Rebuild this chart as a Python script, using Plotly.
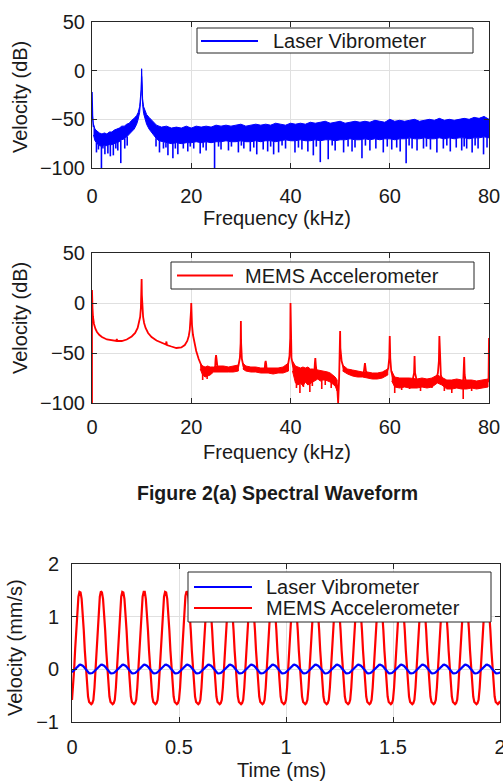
import numpy as np
import plotly.graph_objects as go

W, H = 503, 783
FONT = "Liberation Sans, Arial, Helvetica, sans-serif"
INK = "#1a1a1a"
BLUE = "#0000ff"
RED = "#ff0000"

# ---------------- Laser vibrometer spectrum (kHz, dB) ----------------
laser_env_khz = [0.3, 0.6, 1.0, 1.5, 2.0, 2.5, 3.0, 3.5, 4.0, 4.5,
                 5.0, 5.5, 6.0, 6.5, 7.0, 7.5, 8.0, 8.5, 9.0, 9.3,
                 9.6, 9.8, 9.9, 10.0, 10.1, 10.2, 10.4, 10.7, 11.0, 11.5,
                 12.0, 12.5, 13.0, 13.5] + list(range(14, 81))
laser_upper = [-55, -60, -62, -64, -65, -64, -65, -63, -63, -61,
               -60, -59, -57, -57, -55, -54, -51, -49, -46, -43,
               -37, -29, -19, 2, -19, -29, -37, -42, -45, -48,
               -51, -54, -56, -57,
               -58, -57, -59, -58, -59, -57, -59, -57, -58, -57,
               -58, -56, -57, -56, -57, -56, -55, -57, -56, -55,
               -56, -55, -56, -54, -55, -56, -54, -55, -54, -55,
               -53, -54, -53, -52, -54, -53, -52, -54, -53, -52,
               -53, -52, -53, -51, -52, -53, -50, -52, -51, -52,
               -51, -50, -52, -51, -50, -51, -49, -51, -50, -51,
               -50, -49, -50, -48, -49, -47, -50]
laser_lower = [-66, -72, -75, -77, -78, -77, -77, -76, -76, -75,
               -74, -73, -71, -70, -68, -66, -63, -60, -55, -50,
               -43, -35, -25, -6, -25, -35, -44, -50, -55, -60,
               -64, -67, -70, -72,
               -73, -74, -75, -74, -75, -74, -74, -73, -74, -73,
               -74, -73, -73, -72, -73, -73, -72, -73, -73, -72,
               -73, -72, -72, -73, -72, -71, -72, -72, -71, -72,
               -72, -71, -72, -71, -71, -72, -71, -71, -70, -71,
               -71, -70, -71, -70, -71, -70, -70, -71, -70, -70,
               -69, -70, -70, -69, -70, -70, -69, -70, -69, -70,
               -69, -69, -70, -69, -69, -68, -69]
laser_dc_khz = [0.0, 0.0, 0.1, 0.3]
laser_dc_db = [-50, -22, -46, -58]
laser_dip_khz = [0.9, 1.9, 2.6, 3.2, 3.7, 4.3, 5.2, 5.8, 6.6, 13.6,
                 14.4, 15.3, 16.3, 17.3, 18.4, 19.3, 20.5, 21.8, 23.0, 24.7,
                 26.0, 27.5, 29.5, 30.6, 31.9, 33.2, 34.5, 35.4, 36.6, 37.6,
                 39.0, 40.9, 42.3, 43.5, 44.6, 46.0, 47.6, 49.0, 50.7, 52.4,
                 53.0, 54.4, 56.0, 57.2, 58.7, 60.4, 61.4, 62.1, 63.3, 64.5,
                 65.5, 66.8, 68.2, 69.5, 70.8, 72.2, 73.4, 74.5, 75.5, 76.6,
                 77.8, 78.9, 79.6,
                 1.3, 2.2, 4.8, 7.1, 12.9, 14.9, 16.8, 19.8, 22.4, 25.5,
                 28.1, 30.1, 32.6, 36.0, 38.3, 41.6, 45.2, 48.4, 51.6, 55.1,
                 59.5, 63.9, 67.4, 71.5, 75.0, 77.2]
laser_dip_db = [-84, -100, -86, -85, -88, -87, -82, -95, -80, -84,
                -80, -87, -90, -86, -80, -83, -80, -85, -82, -100,
                -81, -82, -84, -80, -83, -86, -81, -83, -86, -84,
                -80, -84, -81, -83, -87, -94, -91, -82, -84, -83,
                -79, -90, -82, -80, -84, -81, -79, -83, -95, -80,
                -82, -80, -81, -84, -80, -83, -79, -82, -80, -84,
                -80, -86, -79,
                -81, -80, -80, -77, -78, -79, -80, -78, -79, -78,
                -78, -77, -79, -78, -77, -79, -78, -77, -78, -77,
                -78, -77, -78, -77, -78, -77]

# ---------------- MEMS accelerometer spectrum (kHz, dB) ----------------
mems_khz = [0.0, 0.0, 0.05, 0.1, 0.2, 0.4, 0.7, 1.0, 1.5, 2.0,
            3.0, 4.0, 4.9, 5.0, 5.1, 6.0, 7.0, 8.0, 8.7, 9.2,
            9.5, 9.7, 9.85, 9.95, 10.0, 10.05, 10.15, 10.3, 10.5, 10.8,
            11.3, 12.0, 13.0, 14.0, 14.9, 15.0, 15.1, 16.0, 17.0, 18.0,
            18.7, 19.2, 19.5, 19.7, 19.85, 19.95, 20.0, 20.05, 20.15, 20.35,
            20.6, 21.0, 21.5, 22.0, 22.5, 23.0, 24.0, 24.8, 24.9, 25.0,
            25.1, 25.3, 26.0, 27.0, 28.0, 29.0, 29.5, 29.8, 29.95, 30.0,
            30.05, 30.2, 30.5, 31.0, 32.0, 33.0, 34.0, 34.8, 34.9, 35.0,
            35.1, 35.2, 36.0, 37.0, 38.0, 39.0, 39.5, 39.8, 39.95, 40.0,
            40.05, 40.2, 40.5, 41.0, 42.0, 43.0, 44.0, 44.8, 44.9, 45.0,
            45.1, 45.3, 46.0, 47.0, 48.0, 49.0, 49.4, 49.6, 49.8, 49.95,
            50.0, 50.05, 50.3, 50.7, 51.5, 52.5, 53.5, 54.5, 54.8, 55.0,
            55.2, 55.5, 56.5, 57.5, 58.5, 59.3, 59.7, 59.9, 60.0, 60.1,
            60.3, 60.7, 61.5, 62.5, 63.5, 64.5, 64.9, 65.0, 65.1, 65.5,
            66.5, 67.5, 68.5, 69.3, 69.7, 69.9, 70.0, 70.1, 70.3, 70.8,
            72.0, 73.0, 74.0, 74.8, 74.9, 75.0, 75.1, 75.4, 76.5, 77.5,
            78.5, 79.5, 79.9, 80.0]
mems_db = [-100, 13, 4, -5, -14, -21, -26, -29, -32, -34,
           -36.5, -37.5, -38, -36, -38, -38, -36.5, -33.5, -30, -25,
           -20, -14, -5, 8, 24, 8, -5, -14, -20, -25,
           -30, -34, -37.5, -40, -41.5, -38.5, -42, -43.5, -45, -44.5,
           -42, -38, -33, -27, -18, -8, 0, -10, -22, -32,
           -40, -48, -56, -63, -68, -69, -67, -66, -56, -52,
           -56, -65, -66, -66, -66.5, -66, -63, -55, -40, -18,
           -40, -56, -63, -65.5, -66.5, -67, -67, -66, -60, -58,
           -61, -66.5, -67.5, -68, -68, -66, -62, -53, -35, 0,
           -35, -55, -63, -69, -71, -71, -72, -70, -61, -55,
           -62, -71, -72, -73, -75, -78, -83, -100, -75, -45,
           -28, -45, -58, -65, -68.5, -70, -71, -72, -68, -60,
           -68, -72, -73, -73, -72, -70, -65, -55, -33, -55,
           -68, -76, -79, -80, -80, -80, -70, -53, -70, -79,
           -80, -80, -79, -77, -70, -58, -33, -58, -72, -80,
           -81, -81, -81, -80, -70, -54, -72, -81, -81, -81,
           -81, -80, -78, -35]
# noisy floor bands (None separates frequency ranges)
mems_band_khz = [21.8, 22.3, 22.8, 23.3, 23.8, 24.5, 25.5, 26.5, 27.5, 28.5, 29.5, None,
                 30.4, 31, 32, 33, 34, 35.5, 36.5, 37.5, 38.5, 39.6, None,
                 40.4, 41, 41.5, 42, 42.5, 43, 43.5, 44, 44.5, 45.5, 46, 46.5, 47, 47.5, 48, 48.5, 49, 49.4, None,
                 50.5, 51.5, 52.5, 53.5, 54.5, 55.5, 56.5, 57.5, 58.5, 59.6, None,
                 60.4, 61, 62, 63, 64, 65.5, 66.5, 67.5, 68.5, 69.6, 70.5, 71.5, 72.5, 73.5, 74.5, 75.5, 76.5, 77.5, 78.5, 79.8]
mems_band_hi = [-60, -63, -64, -63, -64, -64, -63, -63, -64, -63, -62, None,
                -60, -63, -64, -64, -65, -65, -65, -65, -64, -60, None,
                -58, -63, -64, -65, -64, -65, -64, -66, -66, -67, -67, -68, -68, -69, -70, -72, -74, -77, None,
                -62, -66, -67, -68, -69, -69, -70, -70, -69, -66, None,
                -68, -74, -75, -75, -75, -76, -75, -76, -75, -72, -74, -77, -77, -76, -77, -77, -77, -78, -77, -76]
mems_band_lo = [-66, -72, -74, -73, -72, -69, -69, -69, -69, -69, -68, None,
                -66, -68, -69, -69, -70, -70, -71, -70, -70, -68, None,
                -68, -80, -82, -80, -83, -79, -82, -80, -79, -76, -78, -77, -77, -78, -79, -81, -83, -88, None,
                -68, -71, -73, -74, -74, -75, -76, -76, -75, -72, None,
                -78, -84, -85, -84, -85, -85, -84, -85, -84, -80, -82, -86, -86, -85, -86, -86, -85, -86, -85, -84]
mems_dip_khz = [22.3, 23.2, 41.2, 41.9, 42.6, 43.9, 44.4, 46.3, 47.0, 48.2,
                61.0, 62.4, 64.0, 66.2, 68.5, 71.0, 72.5, 74.8, 76.5, 78.0]
mems_dip_db = [-77, -76, -85, -90, -84, -89, -83, -86, -82, -85,
               -90, -87, -86, -88, -85, -88, -90, -96, -88, -86]

# ---------------- Time waveforms (ms, mm/s) ----------------
t_ms = np.linspace(0.0, 2.0, 401)
mems_mms = [
    -0.58, -0.35, 0.00, 0.40, 0.80, 1.15, 1.38, 1.47, 1.46, 1.34, 1.08, 0.74, 0.35, -0.02, -0.32, -0.52, -0.62, -0.65, -0.66, -0.64,
    -0.58, -0.35, 0.01, 0.41, 0.80, 1.15, 1.38, 1.48, 1.46, 1.34, 1.08, 0.74, 0.35, -0.02, -0.32, -0.52, -0.62, -0.65, -0.66, -0.64,
    -0.58, -0.35, 0.00, 0.40, 0.80, 1.15, 1.38, 1.47, 1.46, 1.34, 1.08, 0.74, 0.35, -0.02, -0.32, -0.52, -0.62, -0.65, -0.66, -0.64,
    -0.58, -0.35, 0.00, 0.40, 0.81, 1.15, 1.38, 1.47, 1.47, 1.34, 1.08, 0.74, 0.35, -0.02, -0.32, -0.52, -0.62, -0.65, -0.66, -0.64,
    -0.58, -0.35, 0.00, 0.40, 0.80, 1.15, 1.38, 1.47, 1.46, 1.34, 1.08, 0.74, 0.35, -0.02, -0.32, -0.52, -0.62, -0.65, -0.66, -0.64,
    -0.58, -0.35, 0.00, 0.40, 0.80, 1.15, 1.39, 1.48, 1.46, 1.34, 1.08, 0.74, 0.35, -0.02, -0.32, -0.52, -0.62, -0.65, -0.66, -0.64,
    -0.58, -0.35, 0.00, 0.40, 0.80, 1.15, 1.38, 1.47, 1.46, 1.34, 1.08, 0.74, 0.35, -0.02, -0.32, -0.52, -0.62, -0.65, -0.66, -0.64,
    -0.58, -0.35, 0.00, 0.40, 0.80, 1.15, 1.38, 1.47, 1.46, 1.34, 1.08, 0.74, 0.35, -0.02, -0.32, -0.52, -0.62, -0.65, -0.66, -0.64,
    -0.58, -0.35, 0.00, 0.40, 0.80, 1.15, 1.38, 1.47, 1.47, 1.34, 1.08, 0.74, 0.35, -0.02, -0.32, -0.52, -0.62, -0.65, -0.66, -0.64,
    -0.58, -0.35, 0.00, 0.40, 0.80, 1.15, 1.38, 1.47, 1.46, 1.34, 1.08, 0.74, 0.35, -0.02, -0.32, -0.52, -0.62, -0.65, -0.66, -0.64,
    -0.58, -0.35, 0.00, 0.40, 0.80, 1.15, 1.38, 1.48, 1.46, 1.34, 1.08, 0.74, 0.35, -0.02, -0.32, -0.52, -0.62, -0.65, -0.66, -0.64,
    -0.58, -0.35, 0.00, 0.40, 0.80, 1.15, 1.38, 1.47, 1.46, 1.34, 1.08, 0.74, 0.35, -0.02, -0.32, -0.52, -0.62, -0.65, -0.66, -0.64,
    -0.58, -0.35, 0.00, 0.40, 0.80, 1.15, 1.38, 1.47, 1.46, 1.34, 1.08, 0.74, 0.35, -0.02, -0.32, -0.52, -0.62, -0.65, -0.66, -0.64,
    -0.58, -0.35, 0.00, 0.40, 0.80, 1.15, 1.38, 1.47, 1.47, 1.34, 1.08, 0.74, 0.35, -0.02, -0.32, -0.52, -0.62, -0.65, -0.66, -0.64,
    -0.58, -0.35, 0.00, 0.40, 0.80, 1.15, 1.38, 1.47, 1.46, 1.34, 1.08, 0.74, 0.35, -0.02, -0.32, -0.52, -0.62, -0.65, -0.66, -0.64,
    -0.58, -0.35, 0.00, 0.40, 0.80, 1.15, 1.38, 1.48, 1.46, 1.34, 1.08, 0.74, 0.35, -0.02, -0.32, -0.52, -0.62, -0.65, -0.66, -0.64,
    -0.58, -0.35, 0.00, 0.40, 0.80, 1.15, 1.38, 1.47, 1.46, 1.34, 1.08, 0.74, 0.35, -0.02, -0.32, -0.52, -0.62, -0.65, -0.66, -0.64,
    -0.58, -0.35, 0.00, 0.40, 0.80, 1.15, 1.38, 1.47, 1.46, 1.34, 1.08, 0.74, 0.35, -0.02, -0.32, -0.52, -0.62, -0.65, -0.66, -0.64,
    -0.58, -0.35, 0.00, 0.40, 0.80, 1.15, 1.38, 1.47, 1.47, 1.34, 1.08, 0.74, 0.35, -0.02, -0.32, -0.52, -0.62, -0.65, -0.66, -0.64,
    -0.58, -0.35, 0.00, 0.40, 0.80, 1.15, 1.38, 1.47, 1.46, 1.34, 1.08, 0.74, 0.35, -0.02, -0.32, -0.52, -0.62, -0.65, -0.66, -0.64,
    -0.60]
laser_mms = [
    -0.055, -0.035, -0.010, 0.015, 0.040, 0.060, 0.075, 0.085, 0.088, 0.083, 0.070, 0.048, 0.020, -0.010, -0.038, -0.060, -0.073, -0.078, -0.078, -0.070,
    -0.055, -0.035, -0.010, 0.016, 0.041, 0.061, 0.076, 0.086, 0.089, 0.083, 0.070, 0.048, 0.020, -0.010, -0.038, -0.060, -0.073, -0.078, -0.078, -0.070,
    -0.055, -0.035, -0.010, 0.015, 0.040, 0.060, 0.075, 0.085, 0.088, 0.083, 0.070, 0.048, 0.020, -0.010, -0.038, -0.060, -0.073, -0.079, -0.078, -0.070,
    -0.055, -0.035, -0.010, 0.015, 0.040, 0.060, 0.075, 0.085, 0.088, 0.083, 0.070, 0.048, 0.020, -0.010, -0.038, -0.060, -0.073, -0.078, -0.078, -0.070,
    -0.055, -0.035, -0.010, 0.015, 0.040, 0.060, 0.076, 0.086, 0.089, 0.084, 0.070, 0.048, 0.020, -0.010, -0.038, -0.060, -0.073, -0.078, -0.078, -0.070,
    -0.055, -0.035, -0.010, 0.015, 0.040, 0.060, 0.075, 0.085, 0.088, 0.083, 0.070, 0.048, 0.020, -0.010, -0.038, -0.060, -0.073, -0.078, -0.078, -0.070,
    -0.055, -0.035, -0.010, 0.015, 0.040, 0.060, 0.075, 0.085, 0.088, 0.083, 0.070, 0.048, 0.020, -0.010, -0.038, -0.060, -0.074, -0.079, -0.078, -0.070,
    -0.055, -0.035, -0.010, 0.015, 0.040, 0.060, 0.075, 0.085, 0.088, 0.083, 0.070, 0.048, 0.020, -0.010, -0.038, -0.060, -0.073, -0.078, -0.078, -0.070,
    -0.055, -0.035, -0.010, 0.016, 0.041, 0.061, 0.076, 0.086, 0.089, 0.083, 0.070, 0.048, 0.020, -0.010, -0.038, -0.060, -0.073, -0.078, -0.078, -0.070,
    -0.055, -0.035, -0.010, 0.015, 0.040, 0.060, 0.075, 0.085, 0.088, 0.083, 0.070, 0.048, 0.020, -0.010, -0.038, -0.060, -0.073, -0.078, -0.078, -0.070,
    -0.055, -0.035, -0.010, 0.015, 0.040, 0.060, 0.075, 0.085, 0.088, 0.083, 0.070, 0.048, 0.020, -0.010, -0.038, -0.060, -0.073, -0.078, -0.078, -0.070,
    -0.055, -0.035, -0.010, 0.015, 0.040, 0.060, 0.075, 0.085, 0.088, 0.083, 0.070, 0.048, 0.020, -0.010, -0.038, -0.061, -0.074, -0.079, -0.078, -0.070,
    -0.055, -0.035, -0.010, 0.015, 0.040, 0.060, 0.075, 0.085, 0.088, 0.083, 0.070, 0.048, 0.020, -0.010, -0.038, -0.060, -0.073, -0.078, -0.078, -0.070,
    -0.055, -0.035, -0.010, 0.015, 0.040, 0.060, 0.076, 0.086, 0.089, 0.084, 0.070, 0.048, 0.020, -0.010, -0.038, -0.060, -0.073, -0.078, -0.078, -0.070,
    -0.055, -0.035, -0.010, 0.015, 0.040, 0.060, 0.075, 0.085, 0.088, 0.083, 0.070, 0.048, 0.020, -0.010, -0.038, -0.060, -0.073, -0.078, -0.078, -0.070,
    -0.055, -0.035, -0.010, 0.015, 0.040, 0.060, 0.075, 0.085, 0.088, 0.083, 0.070, 0.048, 0.020, -0.010, -0.038, -0.060, -0.073, -0.078, -0.078, -0.070,
    -0.055, -0.035, -0.010, 0.016, 0.041, 0.061, 0.076, 0.086, 0.089, 0.083, 0.070, 0.048, 0.020, -0.010, -0.038, -0.060, -0.073, -0.078, -0.078, -0.070,
    -0.055, -0.035, -0.010, 0.015, 0.040, 0.060, 0.075, 0.085, 0.088, 0.083, 0.070, 0.048, 0.020, -0.010, -0.038, -0.060, -0.073, -0.078, -0.078, -0.070,
    -0.055, -0.035, -0.010, 0.015, 0.040, 0.060, 0.075, 0.085, 0.088, 0.083, 0.070, 0.048, 0.020, -0.010, -0.038, -0.060, -0.073, -0.079, -0.078, -0.070,
    -0.055, -0.035, -0.010, 0.015, 0.040, 0.060, 0.075, 0.085, 0.088, 0.083, 0.070, 0.048, 0.020, -0.010, -0.038, -0.060, -0.073, -0.078, -0.078, -0.070,
    -0.055]

freq_ticks = [0, 20, 40, 60, 80]
db_ticks = [-100, -50, 0, 50]
time_ticks = [0, 0.5, 1, 1.5, 2]
mms_ticks = [-1, 0, 1, 2]


def px(x):
    return x / W


def py(y):
    return 1 - y / H


def split_runs(xs, ys):
    runs, cx, cy = [], [], []
    for a, b in zip(xs, ys):
        if a is None:
            runs.append((cx, cy))
            cx, cy = [], []
        else:
            cx.append(a)
            cy.append(b)
    runs.append((cx, cy))
    return runs


def band_polygon(xs, hi, lo):
    """Closed outline(s) between an upper and a lower edge."""
    out_x, out_y = [], []
    hi_runs = split_runs(xs, hi)
    lo_runs = split_runs(xs, lo)
    for (hx, hy), (_, ly) in zip(hi_runs, lo_runs):
        out_x += hx + hx[::-1] + [None]
        out_y += hy + ly[::-1] + [None]
    return out_x[:-1], out_y[:-1]


def spikes(xs, tips, base_x, base_y):
    sx, sy = [], []
    for f, d in zip(xs, tips):
        b = float(np.interp(f, base_x, base_y))
        sx += [f, f, None]
        sy += [b, d, None]
    return sx, sy


fig = go.Figure()

# --- panel 1: laser vibrometer spectrum
lx, ly = band_polygon(laser_env_khz, laser_upper, laser_lower)
fig.add_trace(go.Scatter(x=lx, y=ly, mode="lines", fill="toself", fillcolor=BLUE,
                         line=dict(color=BLUE, width=1), xaxis="x", yaxis="y",
                         hoverinfo="skip", showlegend=False))
fig.add_trace(go.Scatter(x=laser_dc_khz, y=laser_dc_db, mode="lines",
                         line=dict(color=BLUE, width=1.5), xaxis="x", yaxis="y",
                         showlegend=False))
dx, dy = spikes(laser_dip_khz, laser_dip_db, laser_env_khz, laser_lower)
fig.add_trace(go.Scatter(x=dx, y=dy, mode="lines", line=dict(color=BLUE, width=1.6),
                         xaxis="x", yaxis="y", hoverinfo="skip", showlegend=False))

# --- panel 2: MEMS accelerometer spectrum
bx, by = band_polygon(mems_band_khz, mems_band_hi, mems_band_lo)
fig.add_trace(go.Scatter(x=bx, y=by, mode="lines", fill="toself", fillcolor=RED,
                         line=dict(color=RED, width=1), xaxis="x2", yaxis="y2",
                         hoverinfo="skip", showlegend=False))
mx, my = spikes(mems_dip_khz, mems_dip_db, mems_khz, mems_db)
fig.add_trace(go.Scatter(x=mx, y=my, mode="lines", line=dict(color=RED, width=1.6),
                         xaxis="x2", yaxis="y2", hoverinfo="skip", showlegend=False))
fig.add_trace(go.Scatter(x=mems_khz, y=mems_db, mode="lines",
                         line=dict(color=RED, width=1.8), xaxis="x2", yaxis="y2",
                         showlegend=False))

# --- panel 3: time waveforms
fig.add_trace(go.Scatter(x=t_ms, y=mems_mms, mode="lines", line=dict(color=RED, width=2.2),
                         xaxis="x3", yaxis="y3", showlegend=False))
fig.add_trace(go.Scatter(x=t_ms, y=laser_mms, mode="lines", line=dict(color=BLUE, width=2.2),
                         xaxis="x3", yaxis="y3", showlegend=False))

axis_style = dict(showline=True, linecolor="#262626", linewidth=1, mirror="ticks",
                  ticks="inside", ticklen=5, tickcolor="#262626", tickwidth=1,
                  showgrid=True, gridcolor="#e0e0e0", gridwidth=1, zeroline=False,
                  automargin=False,
                  tickfont=dict(family=FONT, size=20, color=INK))

fig.update_layout(
    width=W, height=H, margin=dict(l=0, r=0, t=0, b=0, autoexpand=False),
    paper_bgcolor="white", plot_bgcolor="white", showlegend=False,
    xaxis=dict(domain=[px(92), px(489)], range=[0, 80], tickvals=freq_ticks,
               anchor="y", ticklabelstandoff=10, **axis_style),
    yaxis=dict(domain=[py(168), py(22)], range=[-100, 50], tickvals=db_ticks,
               anchor="x", ticklabelstandoff=2, **axis_style),
    xaxis2=dict(domain=[px(92), px(489)], range=[0, 80], tickvals=freq_ticks,
                anchor="y2", ticklabelstandoff=6, **axis_style),
    yaxis2=dict(domain=[py(403), py(253)], range=[-100, 50], tickvals=db_ticks,
                anchor="x2", ticklabelstandoff=2, **axis_style),
    xaxis3=dict(domain=[px(72), px(500)], range=[0, 2], tickvals=time_ticks,
                anchor="y3", ticklabelstandoff=7, ticklabeloverflow="allow", **axis_style),
    yaxis3=dict(domain=[py(722), py(564)], range=[-1, 2], tickvals=mms_ticks,
                anchor="x3", ticklabelstandoff=8, **axis_style),
)

annotations = []


def text(x, y, s, size=20, angle=0, anchor="center", bold=False):
    annotations.append(dict(
        x=px(x), y=py(y), xref="paper", yref="paper", text=f"<b>{s}</b>" if bold else s,
        showarrow=False, textangle=angle, xanchor=anchor, yanchor="middle",
        font=dict(family=FONT, size=size, color=INK)))


text(20, 97, "Velocity (dB)", angle=-90)
text(277, 218, "Frequency (kHz)")
text(20, 318, "Velocity (dB)", angle=-90)
text(277, 452, "Frequency (kHz)")
text(277, 493, "Figure 2(a) Spectral Waveform", size=19.5, bold=True)
text(15, 648, "Velocity (mm/s)", angle=-90)
text(281, 770, "Time (ms)")

shapes = []


def legend_box(x0, y0, x1, y1, items):
    shapes.append(dict(type="rect", xref="paper", yref="paper",
                       x0=px(x0), x1=px(x1), y0=py(y1), y1=py(y0),
                       line=dict(color="#262626", width=1), fillcolor="white", layer="above"))
    for lx0, lx1, ly, tx, color, label in items:
        shapes.append(dict(type="line", xref="paper", yref="paper",
                           x0=px(lx0), x1=px(lx1), y0=py(ly), y1=py(ly),
                           line=dict(color=color, width=2), layer="above"))
        text(tx, ly, label, anchor="left")


legend_box(197, 28, 473, 53, [(201, 258, 41, 271, BLUE, "Laser Vibrometer")])
legend_box(171, 262, 474, 289, [(177, 233, 275.5, 243, RED, "MEMS Accelerometer")])
legend_box(188, 572, 491, 622, [(194, 252, 587, 264, BLUE, "Laser Vibrometer"),
                                (194, 252, 608, 264, RED, "MEMS Accelerometer")])

fig.update_layout(annotations=annotations, shapes=shapes)
fig.write_html("out.html")
